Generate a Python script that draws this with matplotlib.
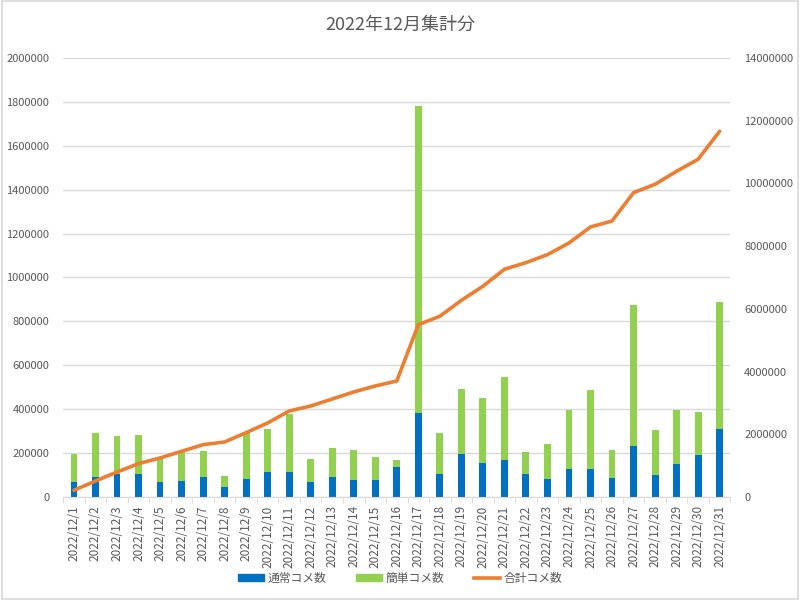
import numpy as np
import matplotlib
matplotlib.use("Agg")
import matplotlib.pyplot as plt
from matplotlib.patches import Rectangle, Patch
from matplotlib.lines import Line2D

plt.rcParams['font.family'] = ['Noto Sans CJK JP', 'DejaVu Sans']

# データ
days = ["2022/12/%d" % d for d in range(1, 32)]
normal = [68000, 91000, 106000, 106000, 68000, 71000, 91000, 46000, 84000, 112000,
          112000, 66000, 90000, 76000, 76000, 137000, 383000, 106000, 194000, 156000,
          169000, 103000, 84000, 126000, 126000, 87000, 234000, 100000, 152000, 190000,
          311000]
easy_total = [197000, 293000, 278000, 281000, 180000, 205000, 208000, 94000, 293000, 310000,
              380000, 173000, 223000, 214000, 182000, 167000, 1780000, 292000, 494000, 450000,
              547000, 207000, 240000, 398000, 489000, 216000, 875000, 304000, 395000, 386000,
              887000]
easy = [t - n for t, n in zip(easy_total, normal)]
total_cum = [213000, 510000, 797000, 1063000, 1244000, 1456000, 1669000, 1754000, 2052000, 2360000,
             2742000, 2902000, 3125000, 3349000, 3540000, 3700000, 5496000, 5762000, 6272000, 6719000,
             7261000, 7473000, 7728000, 8100000, 8611000, 8802000, 9705000, 9971000, 10387000, 10769000,
             11662000]

c_blue = '#0070C0'
c_green = '#92D050'
c_orange = '#ED7D31'
c_text = '#595959'
c_grid = '#D9D9D9'

fig = plt.figure(figsize=(8, 6), dpi=100)
ax1 = fig.add_axes([0.079, 0.1717, 0.834, 0.7317])
ax2 = ax1.twinx()

x = np.arange(len(days))
w = 0.32
ax1.bar(x, normal, w, color=c_blue, zorder=2)
ax1.bar(x, easy, w, bottom=normal, color=c_green, zorder=2)
ax2.plot(x, total_cum, color=c_orange, lw=2.6, solid_capstyle='round', zorder=3)

ax1.set_xlim(-0.5, len(days) - 0.5)
ax1.set_ylim(0, 2000000)
ax2.set_ylim(0, 14000000)
ax1.set_yticks(np.arange(0, 2000001, 200000))
ax2.set_yticks(np.arange(0, 14000001, 2000000))
ax1.set_yticklabels([str(v) for v in range(0, 2000001, 200000)])
ax2.set_yticklabels([str(v) for v in range(0, 14000001, 2000000)])

ax1.set_xticks(x)
ax1.set_xticklabels(days, rotation=90, fontsize=8.5, color=c_text)
ax1.set_xticks(np.arange(-0.5, len(days), 1), minor=True)
ax1.tick_params(axis='x', which='major', length=0, pad=6)
ax1.tick_params(axis='x', which='minor', length=4, color=c_grid, direction='out')
ax1.tick_params(axis='y', length=0, labelsize=8, labelcolor=c_text, pad=10)
ax2.tick_params(axis='y', length=0, labelsize=8, labelcolor=c_text, pad=10)

ax1.yaxis.grid(True, color=c_grid, lw=1)
ax1.set_axisbelow(True)
for a in (ax1, ax2):
    for s in ('top', 'left', 'right'):
        a.spines[s].set_visible(False)
ax1.spines['bottom'].set_color(c_grid)
ax2.spines['bottom'].set_visible(False)

fig.text(0.5, 0.958, '2022年12月集計分', ha='center', va='center', fontsize=13, color=c_text)

handles = [Patch(color=c_blue), Patch(color=c_green), Line2D([], [], color=c_orange, lw=2.6)]
labels = ['通常コメ数', '簡単コメ数', '合計コメ数']
fig.legend(handles, labels, loc='center', bbox_to_anchor=(0.5, 0.036), ncol=3, frameon=False,
           fontsize=8.5, labelcolor=c_text, handlelength=2.2, handleheight=0.5, columnspacing=2.5,
           handletextpad=0.3)

fig.patches.append(Rectangle((0.002, 0.002), 0.996, 0.996, transform=fig.transFigure,
                             fill=False, edgecolor='#D9D9D9', lw=1.2))

plt.savefig('out.png', dpi=100)
